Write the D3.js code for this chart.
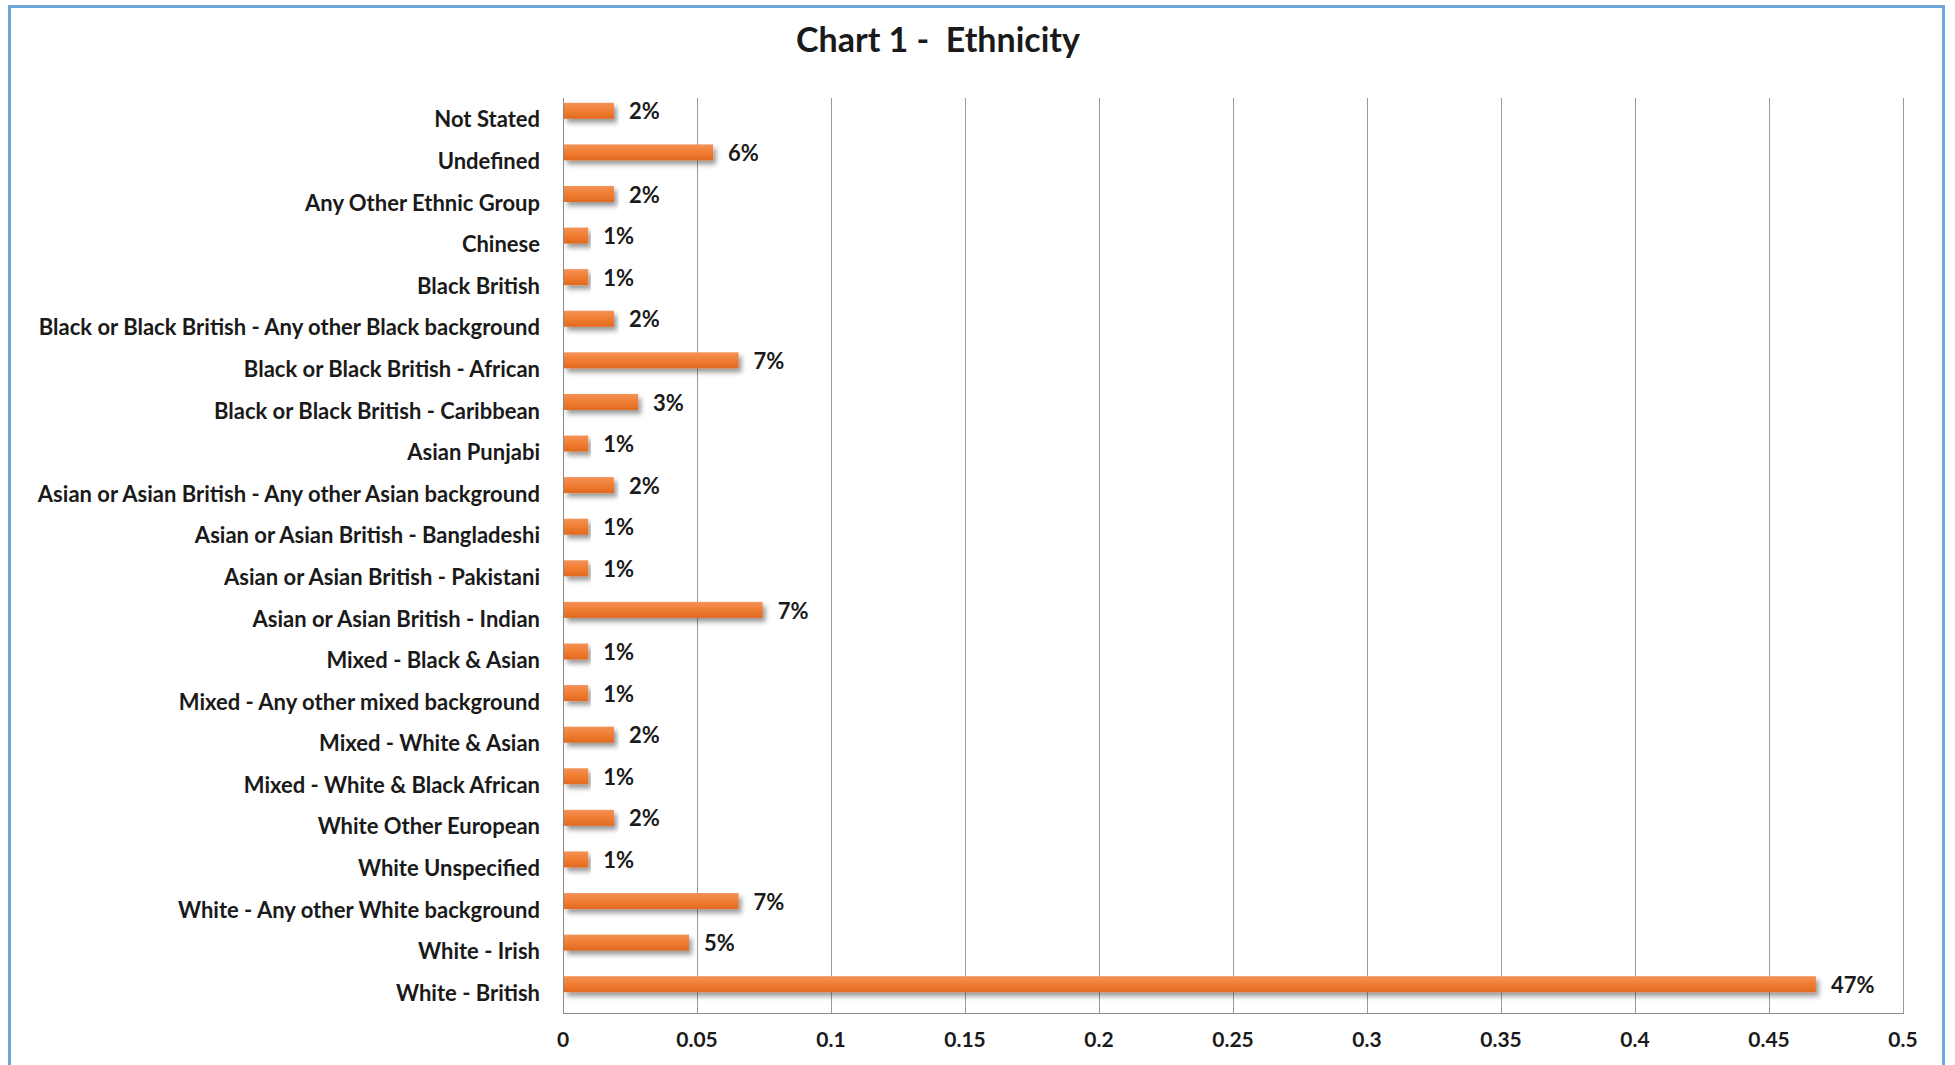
<!DOCTYPE html>
<html>
<head>
<meta charset="utf-8">
<script src="https://cdn.jsdelivr.net/npm/d3@7"></script>
<style>
  html, body { margin: 0; padding: 0; background: #fff; }
  svg { display: block; }
  text { font-family: Lato, "Open Sans", sans-serif; font-weight: bold; fill: #1a1a1a; }
</style>
</head>
<body>
<svg id="chart" width="1955" height="1065"></svg>
<script>
// Ethnicity categories, top to bottom
const categories = [
  "Not Stated",
  "Undefined",
  "Any Other Ethnic Group",
  "Chinese",
  "Black British",
  "Black or Black British - Any other Black background",
  "Black or Black British - African",
  "Black or Black British - Caribbean",
  "Asian Punjabi",
  "Asian or Asian British - Any other Asian background",
  "Asian or Asian British - Bangladeshi",
  "Asian or Asian British - Pakistani",
  "Asian or Asian British - Indian",
  "Mixed - Black & Asian",
  "Mixed - Any other mixed background",
  "Mixed - White & Asian",
  "Mixed - White & Black African",
  "White Other European",
  "White Unspecified",
  "White - Any other White background",
  "White - Irish",
  "White - British"
];

// Share of each group (fraction of total)
const shares = [
  0.019, 0.056, 0.019, 0.0094, 0.0094, 0.019, 0.0655, 0.028, 0.0094, 0.019,
  0.0094, 0.0094, 0.0745, 0.0094, 0.0094, 0.019, 0.0094, 0.019, 0.0094, 0.0655,
  0.047, 0.4675
];

const xTicks = [0, 0.05, 0.1, 0.15, 0.2, 0.25, 0.3, 0.35, 0.4, 0.45, 0.5];
const xTickLabels = ["0", "0.05", "0.1", "0.15", "0.2", "0.25", "0.3", "0.35", "0.4", "0.45", "0.5"];
const chartTitle = "Chart 1 -  Ethnicity";

const svg = d3.select("#chart");
const plotLeft = 563, plotRight = 1903, plotTop = 98, plotBottom = 1013;

const x = d3.scaleLinear().domain([0, 0.5]).range([plotLeft, plotRight]);
const y = d3.scaleBand().domain(categories).range([plotTop, plotBottom]);
const barH = 16;
const barShift = -8;
const pct = d3.format(".0%");

// defs: bar gradient and soft shadow
const defs = svg.append("defs");
const grad = defs.append("linearGradient").attr("id", "barFill")
  .attr("x1", 0).attr("y1", 0).attr("x2", 0).attr("y2", 1);
grad.append("stop").attr("offset", "0%").attr("stop-color", "#f49257");
grad.append("stop").attr("offset", "50%").attr("stop-color", "#ef7d32");
grad.append("stop").attr("offset", "100%").attr("stop-color", "#e2691f");

const shadow = defs.append("filter").attr("id", "shadow")
  .attr("x", "-5%").attr("y", "-50%").attr("width", "115%").attr("height", "220%");
shadow.append("feDropShadow").attr("dx", 3).attr("dy", 4)
  .attr("stdDeviation", 2.5).attr("flood-color", "#000").attr("flood-opacity", 0.4);

// outer chart frame
svg.append("rect")
  .attr("x", 9.5).attr("y", 6.5).attr("width", 1934).attr("height", 1080)
  .attr("fill", "none").attr("stroke", "#6fa6dc").attr("stroke-width", 3);

// title
svg.append("text")
  .attr("x", 938).attr("y", 43)
  .attr("text-anchor", "middle").attr("dominant-baseline", "middle")
  .attr("font-size", 34)
  .style("white-space", "pre")
  .text(chartTitle);

// vertical gridlines
svg.append("g").selectAll("line")
  .data(xTicks.slice(1))
  .join("line")
  .attr("x1", d => x(d) + 0.5).attr("x2", d => x(d) + 0.5)
  .attr("y1", plotTop).attr("y2", plotBottom)
  .attr("stroke", "#9a9a9a").attr("stroke-width", 1);

// axis lines
svg.append("line")
  .attr("x1", x(0) + 0.5).attr("x2", x(0) + 0.5).attr("y1", plotTop).attr("y2", plotBottom + 0.5)
  .attr("stroke", "#8c8c8c");
svg.append("line")
  .attr("x1", x(0)).attr("x2", plotRight + 1).attr("y1", plotBottom + 0.5).attr("y2", plotBottom + 0.5)
  .attr("stroke", "#8c8c8c");

// x tick labels
svg.append("g").selectAll("text")
  .data(xTicks)
  .join("text")
  .attr("x", d => x(d))
  .attr("y", 1042)
  .attr("text-anchor", "middle").attr("dominant-baseline", "middle")
  .attr("font-size", 21)
  .text((d, i) => xTickLabels[i]);

// category labels
svg.append("g").selectAll("text")
  .data(categories)
  .join("text")
  .attr("x", 540)
  .attr("y", d => y(d) + y.bandwidth() / 2 + 3)
  .attr("text-anchor", "end").attr("dominant-baseline", "middle")
  .attr("font-size", 22)
  .text(d => d);

// bars
const rows = categories.map((c, i) => ({ cat: c, v: shares[i] }));
svg.append("g").selectAll("rect")
  .data(rows)
  .join("rect")
  .attr("x", x(0) + 1)
  .attr("y", d => y(d.cat) + y.bandwidth() / 2 - barH / 2 + barShift)
  .attr("width", d => x(d.v) - x(0) - 1)
  .attr("height", barH)
  .attr("fill", "url(#barFill)")
  .attr("filter", "url(#shadow)");

// value labels
svg.append("g").selectAll("text")
  .data(rows)
  .join("text")
  .attr("x", d => x(d.v) + 15)
  .attr("y", d => y(d.cat) + y.bandwidth() / 2 + barShift + 3)
  .attr("dominant-baseline", "middle")
  .attr("font-size", 22)
  .text(d => pct(d.v));
</script>
</body>
</html>
